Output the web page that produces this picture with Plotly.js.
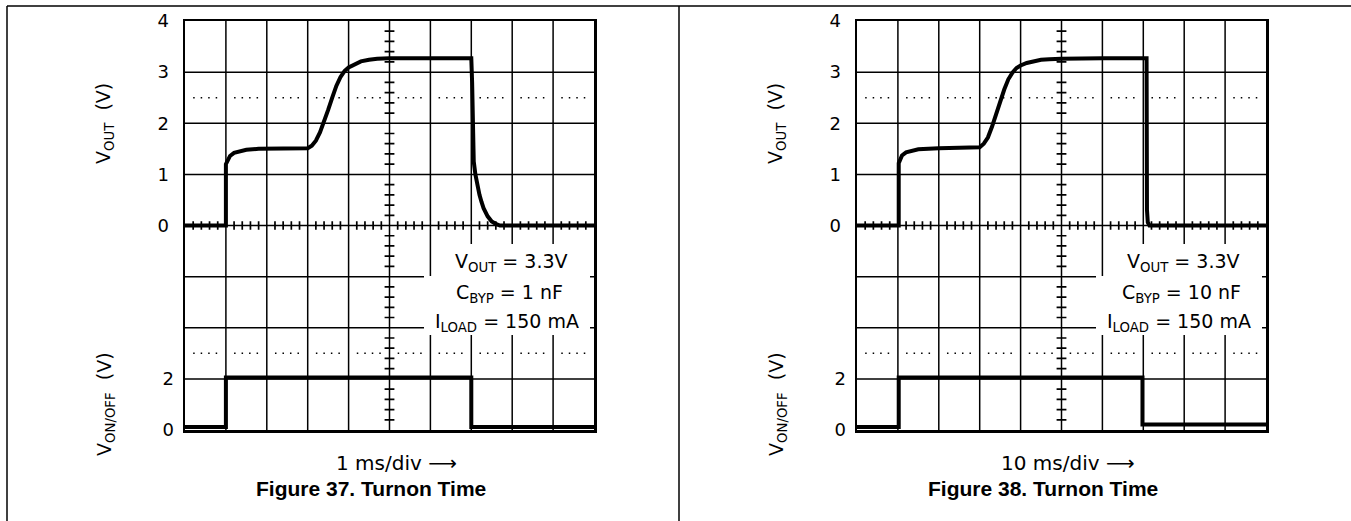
<!DOCTYPE html>
<html><head><meta charset="utf-8">
<script src="https://cdn.plot.ly/plotly-3.0.1.min.js"></script>
<style>html,body{margin:0;padding:0;background:#fff;}</style>
</head><body><div id="chart" style="width:1351px;height:521px;"></div>
<script>
// ---------------- data ----------------
const voutTickVals = [0, 1, 2, 3, 4];
const voutTickText = ['0', '1', '2', '3', '4'];
const vonTickVals = [0, 2];
const vonTickText = ['0', '2'];

// Figure 37 (1 ms/div), time in ms
const fig37Time = [0, 1.0, 1.0, 1.05, 1.1, 1.2, 1.35, 1.5, 1.8, 2.2, 2.6, 2.9, 3.0, 3.1, 3.2, 3.3, 3.4, 3.5, 3.6, 3.7, 3.8, 3.9, 4.0, 4.15, 4.3, 4.5, 4.7, 5.0, 6.0, 7.0, 7.02, 7.04, 7.06, 7.1, 7.15, 7.2, 7.25, 7.3, 7.4, 7.5, 7.6, 7.7, 10];
const fig37Vout = [0, 0, 1.2, 1.3, 1.36, 1.42, 1.46, 1.48, 1.5, 1.5, 1.5, 1.5, 1.51, 1.56, 1.66, 1.82, 2.02, 2.26, 2.5, 2.73, 2.9, 3.02, 3.09, 3.16, 3.21, 3.24, 3.26, 3.27, 3.27, 3.27, 2.8, 1.8, 1.25, 1.0, 0.78, 0.6, 0.46, 0.34, 0.18, 0.08, 0.03, 0, 0];
const fig37OnTime = [0, 1.0, 1.0, 7.0, 7.0, 10];
const fig37Von = [0.12, 0.12, 2.05, 2.05, 0.12, 0.12];

// Figure 38 (10 ms/div), time in ms
const fig38Time = [0, 10.2, 10.2, 10.5, 11, 12, 13.5, 15, 20, 25, 29, 30, 31, 32, 33, 34, 35, 36, 37, 38, 39, 40, 41.5, 43, 45, 47, 50, 60, 70.8, 70.9, 71.1, 71.5, 100];
const fig38Vout = [0, 0, 1.22, 1.3, 1.37, 1.43, 1.47, 1.49, 1.51, 1.52, 1.52, 1.53, 1.6, 1.72, 1.93, 2.18, 2.45, 2.66, 2.86, 2.99, 3.08, 3.13, 3.18, 3.21, 3.24, 3.25, 3.26, 3.27, 3.27, 0.3, 0.06, 0, 0];
const fig38OnTime = [0, 10.2, 10.2, 69.8, 69.8, 100];
const fig38Von = [0.12, 0.12, 2.05, 2.05, 0.22, 0.22];

const captions = ['Figure 37. Turnon Time', 'Figure 38. Turnon Time'];
const timebases = ['1 ms/div', '10 ms/div'];
const cbypValues = ['1 nF', '10 nF'];
const voutSetting = '3.3V';
const iloadSetting = '150 mA';
const msPerDiv = [1, 10];

// ---------------- layout helpers ----------------
const W = 1351, H = 521;
const FONT = 'DejaVu Sans, Liberation Sans, Arial, sans-serif';
const plotTop = 21, plotBottom = 430, plotW = 409;
const plotLefts = [185, 857];
const px = v => v / W;
const py = v => (H - v) / H;

const shapes = [];
const annotations = [];
const black = '#000';

function buildPanel(p, xa, ya, ya2) {
  const d = msPerDiv[p];
  const gl = {color: black, width: 1.5};
  for (let i = 1; i <= 9; i++) {
    shapes.push({type: 'line', layer: 'below', xref: xa, yref: ya + ' domain', x0: i * d, x1: i * d, y0: 0, y1: 1, line: gl});
  }
  for (let j = -3; j <= 3; j++) {
    shapes.push({type: 'line', layer: 'below', xref: xa + ' domain', yref: ya, x0: 0, x1: 1, y0: j, y1: j, line: gl});
  }
  for (let i = 0; i < 10; i++) {
    shapes.push({type: 'line', layer: 'below', xref: xa, yref: ya, x0: (i + 0.2) * d, x1: (i + 0.82) * d, y0: 2.5, y1: 2.5, line: {color: black, width: 1.5, dash: '1.5px,6px'}});
    shapes.push({type: 'line', layer: 'below', xref: xa, yref: ya2, x0: (i + 0.2) * d, x1: (i + 0.82) * d, y0: 3, y1: 3, line: {color: black, width: 1.5, dash: '1.5px,6px'}});
  }
  let path = '';
  for (let k = 1; k < 50; k++) {
    if (k % 5 === 0) continue;
    const x = k * 0.2 * d;
    path += `M${x},-0.085L${x},0.085`;
  }
  for (let m = -19; m <= 19; m++) {
    if (m % 5 === 0) continue;
    const y = m * 0.2;
    path += `M${(5 - 0.12) * d},${y}L${(5 + 0.12) * d},${y}`;
  }
  shapes.push({type: 'path', layer: 'below', xref: xa, yref: ya, path: path, line: {color: black, width: 1.7}});
  const rx = v => (v - 185) / plotW;
  const ry = v => (plotBottom - v) / 409;
  shapes.push({type: 'rect', layer: 'below', xref: xa + ' domain', yref: ya + ' domain', x0: rx(433), x1: rx(588), y0: ry(276), y1: ry(244), fillcolor: '#fff', line: {width: 0}});
  shapes.push({type: 'rect', layer: 'below', xref: xa + ' domain', yref: ya + ' domain', x0: rx(424), x1: rx(590), y0: ry(335), y1: ry(276), fillcolor: '#fff', line: {width: 0}});

  const tf = {family: FONT, size: 19, color: black};
  const txt = [
    ['V<sub>OUT</sub> = ' + voutSetting, rx(511), ry(262)],
    ['C<sub>BYP</sub> = ' + cbypValues[p], rx(509), ry(293)],
    ['I<sub>LOAD</sub> = ' + iloadSetting, rx(507), ry(322)]
  ];
  txt.forEach(t => annotations.push({xref: xa + ' domain', yref: ya + ' domain', x: t[1], y: t[2], text: t[0], showarrow: false, font: tf, xanchor: 'center', yanchor: 'middle'}));

  const off = plotLefts[p] - 185;
  const common = {xref: 'paper', yref: 'paper', showarrow: false, xanchor: 'center', yanchor: 'middle'};
  annotations.push(Object.assign({}, common, {x: px(105 + off), y: py(124), text: 'V<sub>OUT</sub>\u00a0\u00a0(V)', textangle: -90, font: {family: FONT, size: 19, color: black}}));
  annotations.push(Object.assign({}, common, {x: px(105 + off), y: py(404), text: 'V<sub>ON/OFF</sub>\u00a0\u00a0(V)', textangle: -90, font: {family: FONT, size: 19, color: black}}));
  annotations.push(Object.assign({}, common, {x: px(396 + off), y: py(463), text: timebases[p] + ' \u27f6', font: {family: FONT, size: 20, color: black}}));
  annotations.push(Object.assign({}, common, {x: px(371 + off), y: py(488), text: '<b>' + captions[p] + '</b>', font: {family: 'Liberation Sans, Arial, sans-serif', size: 21, color: black}}));
}

buildPanel(0, 'x', 'y', 'y2');
buildPanel(1, 'x2', 'y3', 'y4');

shapes.push({type: 'line', xref: 'paper', yref: 'paper', x0: px(7), x1: 1, y0: py(6), y1: py(6), line: {color: black, width: 1.5}});
shapes.push({type: 'line', xref: 'paper', yref: 'paper', x0: px(7), x1: px(7), y0: 0, y1: py(6), line: {color: black, width: 1.5}});
shapes.push({type: 'line', xref: 'paper', yref: 'paper', x0: px(679), x1: px(679), y0: 0, y1: py(6), line: {color: black, width: 1.5}});

const trLine = {color: black, width: 4};
const traces = [
  {x: fig37Time, y: fig37Vout, xaxis: 'x', yaxis: 'y', mode: 'lines', line: trLine, hoverinfo: 'skip'},
  {x: fig37OnTime, y: fig37Von, xaxis: 'x', yaxis: 'y2', mode: 'lines', line: trLine, hoverinfo: 'skip'},
  {x: fig38Time, y: fig38Vout, xaxis: 'x2', yaxis: 'y3', mode: 'lines', line: trLine, hoverinfo: 'skip'},
  {x: fig38OnTime, y: fig38Von, xaxis: 'x2', yaxis: 'y4', mode: 'lines', line: trLine, hoverinfo: 'skip'}
];

const yDom = [py(plotBottom), py(plotTop)];
const tickFont = {family: FONT, size: 18, color: black};
function xAx(p, anchor) {
  return {domain: [px(plotLefts[p]), px(plotLefts[p] + plotW)], range: [0, 10 * msPerDiv[p]], anchor: anchor,
    showgrid: false, zeroline: false, showticklabels: false, ticks: '', showline: true, mirror: true, linecolor: black, linewidth: 2.5, fixedrange: true};
}
function yAx(anchor) {
  return {domain: yDom, range: [-4, 4], anchor: anchor, tickmode: 'array', tickvals: voutTickVals, ticktext: voutTickText,
    tickfont: tickFont, ticks: '', ticklabelstandoff: 10, showgrid: false, zeroline: false, showline: true, mirror: true, linecolor: black, linewidth: 2.5, fixedrange: true};
}
function y2Ax(anchor, over) {
  return {range: [0, 16], anchor: anchor, overlaying: over, side: 'left', tickmode: 'array', tickvals: vonTickVals, ticktext: vonTickText,
    tickfont: tickFont, ticks: '', ticklabelstandoff: 10, showgrid: false, zeroline: false, showline: false, fixedrange: true};
}

const layout = {
  width: W, height: H,
  margin: {l: 0, r: 0, t: 0, b: 0},
  paper_bgcolor: '#fff', plot_bgcolor: '#fff',
  showlegend: false,
  xaxis: xAx(0, 'y'),
  yaxis: yAx('x'),
  yaxis2: y2Ax('x', 'y'),
  xaxis2: xAx(1, 'y3'),
  yaxis3: yAx('x2'),
  yaxis4: y2Ax('x2', 'y3'),
  shapes: shapes,
  annotations: annotations
};

Plotly.newPlot('chart', traces, layout, {staticPlot: true, displayModeBar: false});
</script></body></html>
